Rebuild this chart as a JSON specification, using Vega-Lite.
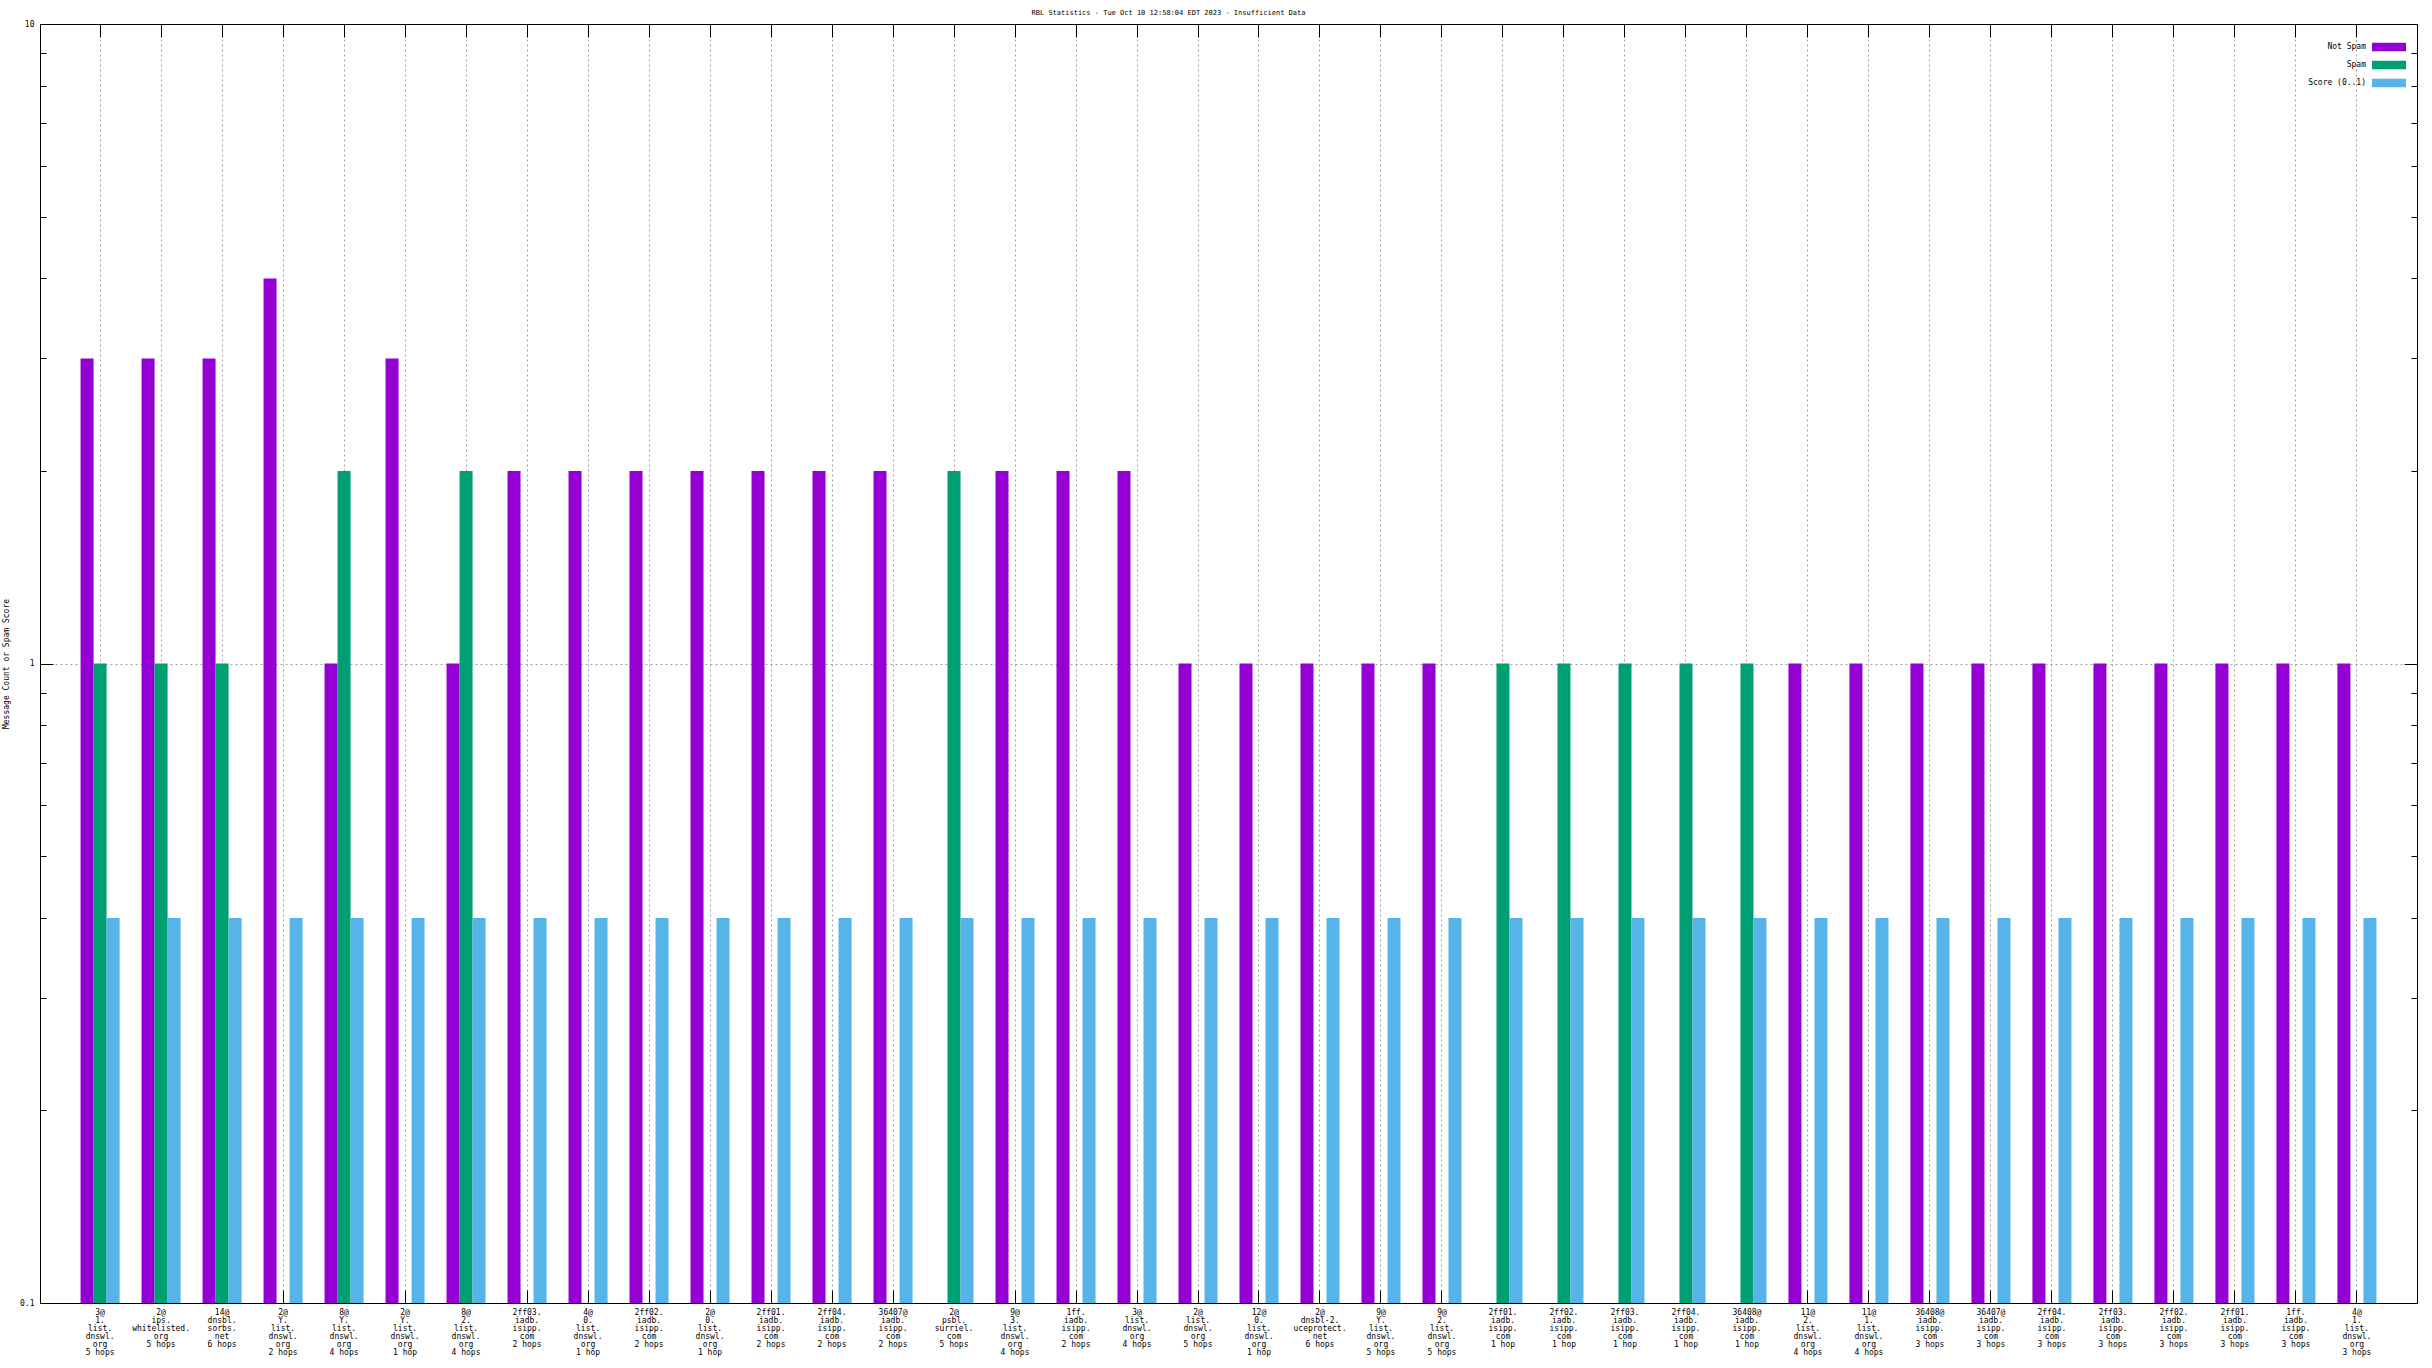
{
  "$schema": "https://vega.github.io/schema/vega-lite/v6.json",
  "width": 2377,
  "height": 1279,
  "autosize": {"type": "none"},
  "padding": {"left": 40, "top": 24, "right": 15, "bottom": 65},
  "background": "white",
  "title": {"text": "RBL Statistics - Tue Oct 10 12:58:04 EDT 2023 - Insufficient Data", "font": "DejaVu Sans Mono", "fontSize": 7, "fontWeight": "normal", "color": "black", "offset": 4, "dx": -60},
  "config": {
    "view": {"stroke": "black", "strokeWidth": 1},
    "axis": {"domainColor": "black", "tickColor": "black", "labelColor": "black", "labelFont": "DejaVu Sans Mono", "labelFontSize": 8, "titleFont": "DejaVu Sans Mono", "titleFontSize": 8, "titleFontWeight": "normal", "titleColor": "black", "gridColor": "#a0a0a0", "gridDash": [2, 3], "gridWidth": 1, "zindex": 0},
    "legend": {"title": null, "orient": "top-right", "offset": 10, "symbolType": "M-1.31,-0.32H1.31V0.32H-1.31Z", "symbolSize": 676, "symbolStrokeWidth": 0, "symbolOpacity": 1, "labelAlign": "right", "labelOffset": -36, "labelFont": "DejaVu Sans Mono", "labelFontSize": 8, "labelColor": "black", "rowPadding": -10}
  },
  "data": {"values": [
    {"i": 1, "cat": "3@|1.|list.|dnswl.|org|5 hops", "series": "Not Spam", "v": 3},
    {"i": 1, "cat": "3@|1.|list.|dnswl.|org|5 hops", "series": "Spam", "v": 1},
    {"i": 1, "cat": "3@|1.|list.|dnswl.|org|5 hops", "series": "Score (0..1)", "v": 0.4},
    {"i": 2, "cat": "2@|ips.|whitelisted.|org|5 hops", "series": "Not Spam", "v": 3},
    {"i": 2, "cat": "2@|ips.|whitelisted.|org|5 hops", "series": "Spam", "v": 1},
    {"i": 2, "cat": "2@|ips.|whitelisted.|org|5 hops", "series": "Score (0..1)", "v": 0.4},
    {"i": 3, "cat": "14@|dnsbl.|sorbs.|net|6 hops", "series": "Not Spam", "v": 3},
    {"i": 3, "cat": "14@|dnsbl.|sorbs.|net|6 hops", "series": "Spam", "v": 1},
    {"i": 3, "cat": "14@|dnsbl.|sorbs.|net|6 hops", "series": "Score (0..1)", "v": 0.4},
    {"i": 4, "cat": "2@|Y.|list.|dnswl.|org|2 hops", "series": "Not Spam", "v": 4},
    {"i": 4, "cat": "2@|Y.|list.|dnswl.|org|2 hops", "series": "Score (0..1)", "v": 0.4},
    {"i": 5, "cat": "8@|Y.|list.|dnswl.|org|4 hops", "series": "Not Spam", "v": 1},
    {"i": 5, "cat": "8@|Y.|list.|dnswl.|org|4 hops", "series": "Spam", "v": 2},
    {"i": 5, "cat": "8@|Y.|list.|dnswl.|org|4 hops", "series": "Score (0..1)", "v": 0.4},
    {"i": 6, "cat": "2@|Y.|list.|dnswl.|org|1 hop", "series": "Not Spam", "v": 3},
    {"i": 6, "cat": "2@|Y.|list.|dnswl.|org|1 hop", "series": "Score (0..1)", "v": 0.4},
    {"i": 7, "cat": "8@|2.|list.|dnswl.|org|4 hops", "series": "Not Spam", "v": 1},
    {"i": 7, "cat": "8@|2.|list.|dnswl.|org|4 hops", "series": "Spam", "v": 2},
    {"i": 7, "cat": "8@|2.|list.|dnswl.|org|4 hops", "series": "Score (0..1)", "v": 0.4},
    {"i": 8, "cat": "2ff03.|iadb.|isipp.|com|2 hops", "series": "Not Spam", "v": 2},
    {"i": 8, "cat": "2ff03.|iadb.|isipp.|com|2 hops", "series": "Score (0..1)", "v": 0.4},
    {"i": 9, "cat": "4@|0.|list.|dnswl.|org|1 hop", "series": "Not Spam", "v": 2},
    {"i": 9, "cat": "4@|0.|list.|dnswl.|org|1 hop", "series": "Score (0..1)", "v": 0.4},
    {"i": 10, "cat": "2ff02.|iadb.|isipp.|com|2 hops", "series": "Not Spam", "v": 2},
    {"i": 10, "cat": "2ff02.|iadb.|isipp.|com|2 hops", "series": "Score (0..1)", "v": 0.4},
    {"i": 11, "cat": "2@|0.|list.|dnswl.|org|1 hop", "series": "Not Spam", "v": 2},
    {"i": 11, "cat": "2@|0.|list.|dnswl.|org|1 hop", "series": "Score (0..1)", "v": 0.4},
    {"i": 12, "cat": "2ff01.|iadb.|isipp.|com|2 hops", "series": "Not Spam", "v": 2},
    {"i": 12, "cat": "2ff01.|iadb.|isipp.|com|2 hops", "series": "Score (0..1)", "v": 0.4},
    {"i": 13, "cat": "2ff04.|iadb.|isipp.|com|2 hops", "series": "Not Spam", "v": 2},
    {"i": 13, "cat": "2ff04.|iadb.|isipp.|com|2 hops", "series": "Score (0..1)", "v": 0.4},
    {"i": 14, "cat": "36407@|iadb.|isipp.|com|2 hops", "series": "Not Spam", "v": 2},
    {"i": 14, "cat": "36407@|iadb.|isipp.|com|2 hops", "series": "Score (0..1)", "v": 0.4},
    {"i": 15, "cat": "2@|psbl.|surriel.|com|5 hops", "series": "Spam", "v": 2},
    {"i": 15, "cat": "2@|psbl.|surriel.|com|5 hops", "series": "Score (0..1)", "v": 0.4},
    {"i": 16, "cat": "9@|3.|list.|dnswl.|org|4 hops", "series": "Not Spam", "v": 2},
    {"i": 16, "cat": "9@|3.|list.|dnswl.|org|4 hops", "series": "Score (0..1)", "v": 0.4},
    {"i": 17, "cat": "1ff.|iadb.|isipp.|com|2 hops", "series": "Not Spam", "v": 2},
    {"i": 17, "cat": "1ff.|iadb.|isipp.|com|2 hops", "series": "Score (0..1)", "v": 0.4},
    {"i": 18, "cat": "3@|list.|dnswl.|org|4 hops", "series": "Not Spam", "v": 2},
    {"i": 18, "cat": "3@|list.|dnswl.|org|4 hops", "series": "Score (0..1)", "v": 0.4},
    {"i": 19, "cat": "2@|list.|dnswl.|org|5 hops", "series": "Not Spam", "v": 1},
    {"i": 19, "cat": "2@|list.|dnswl.|org|5 hops", "series": "Score (0..1)", "v": 0.4},
    {"i": 20, "cat": "12@|0.|list.|dnswl.|org|1 hop", "series": "Not Spam", "v": 1},
    {"i": 20, "cat": "12@|0.|list.|dnswl.|org|1 hop", "series": "Score (0..1)", "v": 0.4},
    {"i": 21, "cat": "2@|dnsbl-2.|uceprotect.|net|6 hops", "series": "Not Spam", "v": 1},
    {"i": 21, "cat": "2@|dnsbl-2.|uceprotect.|net|6 hops", "series": "Score (0..1)", "v": 0.4},
    {"i": 22, "cat": "9@|Y.|list.|dnswl.|org|5 hops", "series": "Not Spam", "v": 1},
    {"i": 22, "cat": "9@|Y.|list.|dnswl.|org|5 hops", "series": "Score (0..1)", "v": 0.4},
    {"i": 23, "cat": "9@|2.|list.|dnswl.|org|5 hops", "series": "Not Spam", "v": 1},
    {"i": 23, "cat": "9@|2.|list.|dnswl.|org|5 hops", "series": "Score (0..1)", "v": 0.4},
    {"i": 24, "cat": "2ff01.|iadb.|isipp.|com|1 hop", "series": "Spam", "v": 1},
    {"i": 24, "cat": "2ff01.|iadb.|isipp.|com|1 hop", "series": "Score (0..1)", "v": 0.4},
    {"i": 25, "cat": "2ff02.|iadb.|isipp.|com|1 hop", "series": "Spam", "v": 1},
    {"i": 25, "cat": "2ff02.|iadb.|isipp.|com|1 hop", "series": "Score (0..1)", "v": 0.4},
    {"i": 26, "cat": "2ff03.|iadb.|isipp.|com|1 hop", "series": "Spam", "v": 1},
    {"i": 26, "cat": "2ff03.|iadb.|isipp.|com|1 hop", "series": "Score (0..1)", "v": 0.4},
    {"i": 27, "cat": "2ff04.|iadb.|isipp.|com|1 hop", "series": "Spam", "v": 1},
    {"i": 27, "cat": "2ff04.|iadb.|isipp.|com|1 hop", "series": "Score (0..1)", "v": 0.4},
    {"i": 28, "cat": "36408@|iadb.|isipp.|com|1 hop", "series": "Spam", "v": 1},
    {"i": 28, "cat": "36408@|iadb.|isipp.|com|1 hop", "series": "Score (0..1)", "v": 0.4},
    {"i": 29, "cat": "11@|2.|list.|dnswl.|org|4 hops", "series": "Not Spam", "v": 1},
    {"i": 29, "cat": "11@|2.|list.|dnswl.|org|4 hops", "series": "Score (0..1)", "v": 0.4},
    {"i": 30, "cat": "11@|1.|list.|dnswl.|org|4 hops", "series": "Not Spam", "v": 1},
    {"i": 30, "cat": "11@|1.|list.|dnswl.|org|4 hops", "series": "Score (0..1)", "v": 0.4},
    {"i": 31, "cat": "36408@|iadb.|isipp.|com|3 hops", "series": "Not Spam", "v": 1},
    {"i": 31, "cat": "36408@|iadb.|isipp.|com|3 hops", "series": "Score (0..1)", "v": 0.4},
    {"i": 32, "cat": "36407@|iadb.|isipp.|com|3 hops", "series": "Not Spam", "v": 1},
    {"i": 32, "cat": "36407@|iadb.|isipp.|com|3 hops", "series": "Score (0..1)", "v": 0.4},
    {"i": 33, "cat": "2ff04.|iadb.|isipp.|com|3 hops", "series": "Not Spam", "v": 1},
    {"i": 33, "cat": "2ff04.|iadb.|isipp.|com|3 hops", "series": "Score (0..1)", "v": 0.4},
    {"i": 34, "cat": "2ff03.|iadb.|isipp.|com|3 hops", "series": "Not Spam", "v": 1},
    {"i": 34, "cat": "2ff03.|iadb.|isipp.|com|3 hops", "series": "Score (0..1)", "v": 0.4},
    {"i": 35, "cat": "2ff02.|iadb.|isipp.|com|3 hops", "series": "Not Spam", "v": 1},
    {"i": 35, "cat": "2ff02.|iadb.|isipp.|com|3 hops", "series": "Score (0..1)", "v": 0.4},
    {"i": 36, "cat": "2ff01.|iadb.|isipp.|com|3 hops", "series": "Not Spam", "v": 1},
    {"i": 36, "cat": "2ff01.|iadb.|isipp.|com|3 hops", "series": "Score (0..1)", "v": 0.4},
    {"i": 37, "cat": "1ff.|iadb.|isipp.|com|3 hops", "series": "Not Spam", "v": 1},
    {"i": 37, "cat": "1ff.|iadb.|isipp.|com|3 hops", "series": "Score (0..1)", "v": 0.4},
    {"i": 38, "cat": "4@|1.|list.|dnswl.|org|3 hops", "series": "Not Spam", "v": 1},
    {"i": 38, "cat": "4@|1.|list.|dnswl.|org|3 hops", "series": "Score (0..1)", "v": 0.4}
  ]},
  "layer": [
    {
      "mark": {"type": "bar"},
      "encoding": {
        "x": {"field": "cat", "type": "nominal", "sort": {"field": "i", "op": "min"},
              "scale": {"paddingInner": 0.36, "paddingOuter": 0.665},
              "axis": {"orient": "bottom", "title": null, "labelAngle": 0, "labelExpr": "split(datum.label, '|')", "labelLineHeight": 8, "labelBaseline": "top", "labelPadding": 18, "tickSize": -13, "grid": true, "labelOverlap": false, "labelLimit": 0, "domain": false}},
        "xOffset": {"field": "series", "type": "nominal", "scale": {"domain": ["Not Spam", "Spam", "Score (0..1)"], "paddingInner": 0, "paddingOuter": 0}},
        "y": {"field": "v", "type": "quantitative", "stack": null,
              "scale": {"type": "log", "domain": [0.1, 10], "nice": false},
              "axis": {"orient": "left", "title": "Message Count or Spam Score", "titlePadding": 9,
                       "values": [0.1, 0.2, 0.3, 0.4, 0.5, 0.6, 0.7, 0.8, 0.9, 1, 2, 3, 4, 5, 6, 7, 8, 9, 10],
                       "labelExpr": "datum.value == 0.1 ? '0.1' : (datum.value == 1 ? '1' : (datum.value == 10 ? '10' : ''))",
                       "labelOverlap": false, "labelPadding": 19, "domain": false, "grid": true,
                       "gridOpacity": {"condition": {"test": "datum.value == 1", "value": 1}, "value": 0},
                       "tickSize": {"condition": {"test": "datum.value == 0.1 || datum.value == 1 || datum.value == 10", "value": -13}, "value": -6}}},
        "color": {"field": "series", "type": "nominal", "scale": {"domain": ["Not Spam", "Spam", "Score (0..1)"], "range": ["#9400d3", "#009e73", "#56b4e9"]}}
      }
    },
    {
      "mark": {"type": "bar", "opacity": 0},
      "encoding": {
        "x": {"field": "cat", "type": "nominal", "sort": {"field": "i", "op": "min"},
              "axis": {"orient": "top", "title": null, "labels": false, "tickSize": -13, "grid": false, "domain": false}},
        "y": {"field": "v", "type": "quantitative", "stack": null,
              "axis": {"orient": "right", "title": null, "labels": false, "domain": false, "grid": false,
                       "values": [0.1, 0.2, 0.3, 0.4, 0.5, 0.6, 0.7, 0.8, 0.9, 1, 2, 3, 4, 5, 6, 7, 8, 9, 10],
                       "tickSize": {"condition": {"test": "datum.value == 0.1 || datum.value == 1 || datum.value == 10", "value": -13}, "value": -6}}}
      }
    }
  ],
  "resolve": {"axis": {"x": "independent", "y": "independent"}}
}
